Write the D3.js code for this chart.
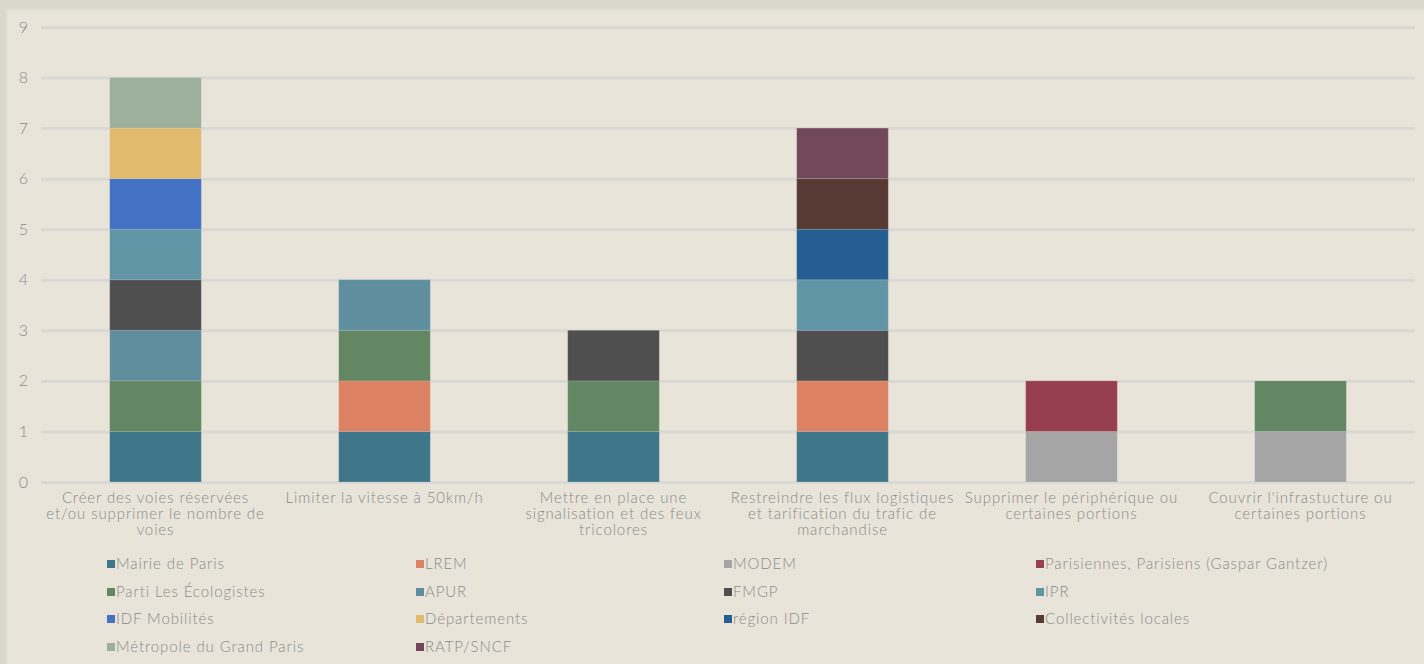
<!doctype html>
<html>
<head>
  <meta charset="utf-8">
  <script src="https://d3js.org/d3.v7.min.js"></script>
  <style>
  body {
    margin: 0;
    background: #dad7cd;
  }
  svg {
    display: block;
    font-family: "Lato", "DejaVu Sans", sans-serif;
    font-weight: 300;
  }
  .grid line {
    stroke: #d9d8d4;
    stroke-width: 3;
  }
  .lbl {
    fill: #8b8b8b;
    font-size: 15px;
    letter-spacing: 0.9px;
  }
  .ytick {
    font-size: 16px;
    letter-spacing: 0;
  }
  </style>
</head>
<body>
  <script>
    var width = 1424,
        height = 664;

    // categories (line breaks as in the picture)
    var categories = [
      ["Créer des voies réservées", "et/ou supprimer le nombre de", "voies"],
      ["Limiter la vitesse à 50km/h"],
      ["Mettre en place une", "signalisation et des feux", "tricolores"],
      ["Restreindre les flux logistiques", "et tarification du trafic de", "marchandise"],
      ["Supprimer le périphérique ou", "certaines portions"],
      ["Couvrir l'infrastucture ou", "certaines portions"]
    ];

    var seriesNames = [
      "Mairie de Paris", "LREM", "MODEM", "Parisiennes, Parisiens (Gaspar Gantzer)",
      "Parti Les Écologistes", "APUR", "FMGP", "IPR",
      "IDF Mobilités", "Départements", "région IDF", "Collectivités locales",
      "Métropole du Grand Paris", "RATP/SNCF"
    ];

    var seriesColors = [
      "#3f7689", "#dc8162", "#a5a5a5", "#983f4f",
      "#628762", "#5f8e9e", "#4f4f4f", "#6194a5",
      "#4472c4", "#e2ba6e", "#255e91", "#563a33",
      "#9cb09c", "#72495b"
    ];

    // one value per category, in category order
    var mairie      = [1, 1, 1, 1, 0, 0];
    var lrem        = [0, 1, 0, 1, 0, 0];
    var modem       = [0, 0, 0, 0, 1, 1];
    var parisiens   = [0, 0, 0, 0, 1, 0];
    var ecologistes = [1, 1, 1, 0, 0, 1];
    var apur        = [1, 1, 0, 0, 0, 0];
    var fmgp        = [1, 0, 1, 1, 0, 0];
    var ipr         = [1, 0, 0, 1, 0, 0];
    var idfMob      = [1, 0, 0, 0, 0, 0];
    var departements = [1, 0, 0, 0, 0, 0];
    var regionIdf   = [0, 0, 0, 1, 0, 0];
    var collectivites = [0, 0, 0, 1, 0, 0];
    var metropole   = [1, 0, 0, 0, 0, 0];
    var ratp        = [0, 0, 0, 1, 0, 0];

    var seriesValues = [mairie, lrem, modem, parisiens, ecologistes, apur, fmgp, ipr,
                        idfMob, departements, regionIdf, collectivites, metropole, ratp];

    var yTicks = [0, 1, 2, 3, 4, 5, 6, 7, 8, 9];

    // build table for the stack
    var table = categories.map(function(c, i) {
      var row = {idx: i};
      seriesNames.forEach(function(s, k) { row[s] = seriesValues[k][i]; });
      return row;
    });

    var stacked = d3.stack().keys(seriesNames)(table);

    var svg = d3.select("body").append("svg")
        .attr("width", width)
        .attr("height", height);

    svg.append("rect")
        .attr("x", 6.5)
        .attr("y", 9.5)
        .attr("width", width)
        .attr("height", height)
        .attr("fill", "#e8e4da")
        .attr("stroke", "#dedcd6")
        .attr("stroke-width", 2);

    var x = d3.scaleBand()
        .domain(d3.range(categories.length))
        .range([41, 1415])
        .paddingInner(0.6)
        .paddingOuter(0.3);

    var y = d3.scaleLinear()
        .domain([0, 9])
        .range([482, 27]);

    // gridlines
    svg.append("g")
        .attr("class", "grid")
        .attr("transform", "translate(41,0)")
        .call(d3.axisLeft(y).tickValues(yTicks).tickSize(-(1415 - 41)).tickFormat(""))
        .call(function(g) { g.select(".domain").remove(); });

    // y labels
    svg.append("g").selectAll("text")
        .data(yTicks)
      .join("text")
        .attr("class", "lbl ytick")
        .attr("x", 28)
        .attr("y", function(d) { return y(d); })
        .attr("dy", "0.35em")
        .attr("text-anchor", "end")
        .text(function(d) { return d; });

    // bars
    svg.append("g").selectAll("g")
        .data(stacked)
      .join("g")
        .attr("fill", function(d, i) { return seriesColors[i]; })
      .selectAll("rect")
        .data(function(d) { return d.filter(function(p) { return p[1] - p[0] > 0; }); })
      .join("rect")
        .attr("x", function(d) { return x(d.data.idx); })
        .attr("y", function(d) { return y(d[1]); })
        .attr("width", x.bandwidth())
        .attr("height", function(d) { return y(d[0]) - y(d[1]); })
        .attr("stroke", "rgba(255,255,255,0.12)")
        .attr("stroke-width", 1);

    // category labels
    var cat = svg.append("g").selectAll("text")
        .data(categories)
      .join("text")
        .attr("class", "lbl")
        .attr("text-anchor", "middle")
        .attr("x", function(d, i) { return x(i) + x.bandwidth() / 2; })
        .attr("y", 503);
    cat.selectAll("tspan")
        .data(function(d) { return d; })
      .join("tspan")
        .attr("x", function() { return d3.select(this.parentNode).attr("x"); })
        .attr("dy", function(d, i) { return i === 0 ? 0 : 16; })
        .text(function(d) { return d; });

    // legend
    var legCols = [107, 416, 724, 1036],
        legRows = [563, 591, 618, 646];

    var leg = svg.append("g").selectAll("g")
        .data(seriesNames)
      .join("g")
        .attr("transform", function(d, i) {
          return "translate(" + legCols[i % 4] + "," + legRows[Math.floor(i / 4)] + ")";
        });

    leg.append("rect")
        .attr("x", 0)
        .attr("y", -3)
        .attr("width", 8)
        .attr("height", 8)
        .attr("fill", function(d, i) { return seriesColors[i]; });

    leg.append("text")
        .attr("class", "lbl")
        .attr("x", 9)
        .attr("y", 1)
        .attr("dy", "0.35em")
        .text(function(d) { return d; });
  </script>
</body>
</html>
